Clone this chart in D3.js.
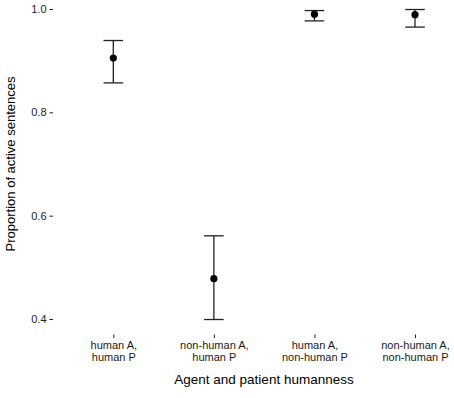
<!DOCTYPE html>
<html>
<head>
<meta charset="utf-8">
<script src="https://cdn.jsdelivr.net/npm/d3@7"></script>
<style>
  body { margin: 0; background: #fff; }
  text { font-family: "Liberation Sans", Arial, sans-serif; }
</style>
</head>
<body>
<div id="chart"></div>
<script>
// categories (two-line labels) and estimated proportions with CIs
var categories = ["human A,\nhuman P", "non-human A,\nhuman P", "human A,\nnon-human P", "non-human A,\nnon-human P"];
var means = [0.905, 0.478, 0.990, 0.989];
var lower = [0.857, 0.399, 0.977, 0.965];
var upper = [0.939, 0.561, 0.997, 0.999];
var yTicks = [0.4, 0.6, 0.8, 1.0];

var width = 454, height = 398;
var panel = {left: 53, bottom: 334.5};

var svg = d3.select("#chart")
    .append("svg")
    .attr("width", width)
    .attr("height", height);

// x: discrete positions, ggplot-like 0.6 expansion on each side
var xScale = d3.scalePoint()
    .domain(categories)
    .range([113.3, 415]);

var yScale = d3.scaleLinear()
    .domain([0.4, 1.0])
    .range([319, 9]);

// y axis (ticks only, no axis line)
var yAxis = svg.append("g")
    .attr("transform", "translate(" + panel.left + ",0)")
    .call(d3.axisLeft(yScale).tickValues(yTicks).tickFormat(d3.format(".1f")).tickSize(3.5).tickPadding(3));
yAxis.select(".domain").remove();
yAxis.selectAll("line").attr("stroke", "#222").attr("stroke-width", 1);
yAxis.selectAll("text").attr("fill", "#222").style("font-size", "11px");

// x axis
var xAxis = svg.append("g")
    .attr("transform", "translate(0," + panel.bottom + ")")
    .call(d3.axisBottom(xScale).tickSize(3.5).tickFormat(""));
xAxis.select(".domain").remove();
xAxis.selectAll("line").attr("stroke", "#222").attr("stroke-width", 1);

xAxis.selectAll(".tick").each(function(d) {
  var t = d3.select(this).append("text")
      .attr("fill", "#1a1a1a")
      .attr("text-anchor", "middle")
      .style("font-size", "11px");
  d.split("\n").forEach(function(line, i) {
    t.append("tspan").attr("x", 0).attr("y", 14 + i * 12.3).text(line);
  });
});

// error bars
var capHalf = 9.8;
var bars = svg.append("g");
categories.forEach(function(c, i) {
  var x = xScale(c);
  bars.append("line")
      .attr("x1", x).attr("x2", x)
      .attr("y1", yScale(upper[i])).attr("y2", yScale(lower[i]))
      .attr("stroke", "#222").attr("stroke-width", 1.3);
  [upper[i], lower[i]].forEach(function(v) {
    bars.append("line")
        .attr("x1", x - capHalf).attr("x2", x + capHalf)
        .attr("y1", yScale(v)).attr("y2", yScale(v))
        .attr("stroke", "#222").attr("stroke-width", 1.3);
  });
  bars.append("circle")
      .attr("cx", x).attr("cy", yScale(means[i]))
      .attr("r", 3.6)
      .attr("fill", "#000");
});

// axis titles
svg.append("text")
    .attr("x", 264)
    .attr("y", 384)
    .attr("text-anchor", "middle")
    .style("font-size", "13.5px")
    .text("Agent and patient humanness");

svg.append("text")
    .attr("transform", "translate(15,164) rotate(-90)")
    .attr("text-anchor", "middle")
    .style("font-size", "13px")
    .text("Proportion of active sentences");
</script>
</body>
</html>
